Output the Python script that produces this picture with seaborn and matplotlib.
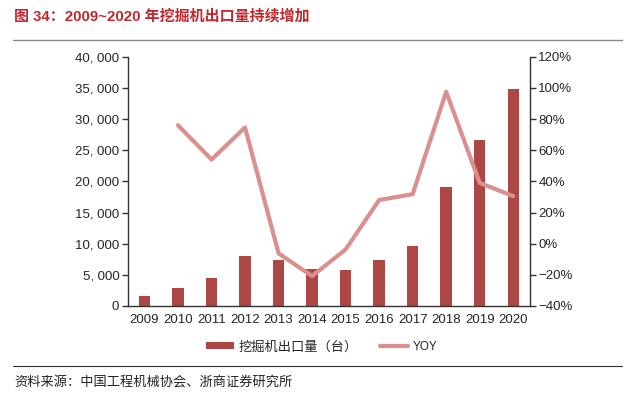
import matplotlib
matplotlib.use("Agg")
import matplotlib.pyplot as plt
import seaborn as sns
import numpy as np
import pandas as pd
from matplotlib.lines import Line2D
from matplotlib.patches import Patch

years = ["2009", "2010", "2011", "2012", "2013", "2014", "2015", "2016", "2017", "2018", "2019", "2020"]
exports = [1600, 2950, 4550, 7950, 7400, 5900, 5800, 7400, 9650, 19100, 26600, 34750]
yoy = [np.nan, 76.0, 54.0, 74.6, -6.2, -20.8, -3.7, 28.0, 31.8, 97.5, 39.0, 30.5]
left_ticks = [0, 5000, 10000, 15000, 20000, 25000, 30000, 35000, 40000]
right_ticks = [-40, -20, 0, 20, 40, 60, 80, 100, 120]

bar_color = "#AD4746"
line_color = "#D9908E"
title = "图 34：2009~2020 年挖掘机出口量持续增加"
bar_label = "挖掘机出口量（台）"
line_label = "YOY"
source = "资料来源：中国工程机械协会、浙商证券研究所"

sns.set_style("white")
plt.rcParams["font.family"] = ["Liberation Sans", "Noto Sans CJK SC", "DejaVu Sans"]

W, H = 644, 393
fig = plt.figure(figsize=(W / 100, H / 100), dpi=100)
ax = fig.add_axes([127.7 / W, 1 - 306 / H, (530 - 127.7) / W, (306 - 56.7) / H])

df = pd.DataFrame({"year": years, "exports": exports, "yoy": yoy, "pos": np.arange(len(years))})
sns.barplot(data=df, x="year", y="exports", color=bar_color, saturation=1, width=0.34,
            linewidth=0, ax=ax)
ax.set_ylim(0, 40000)
ax.set_xlim(-0.5, len(years) - 0.5)
ax.set_yticks(left_ticks)
ax.set_yticklabels([f"{v:,}".replace(",", ", ") for v in left_ticks], fontsize=9.5)
ax.set_xlabel("")
ax.set_ylabel("")
ax.set_xticks(np.arange(len(years)))
ax.set_xticklabels(years, fontsize=9.5)
ax.tick_params(axis="x", length=0, pad=6)
ax.set_xticks(np.arange(len(years) + 1) - 0.5, minor=True)
ax.tick_params(axis="x", which="minor", length=4, width=1, color="#333333", direction="out")
ax.tick_params(axis="y", length=4, width=1, color="#333333", direction="out", pad=2)

ax2 = ax.twinx()
sns.lineplot(data=df, x="pos", y="yoy", color=line_color, linewidth=3, ax=ax2)
ax2.set_ylim(-40, 120)
ax2.set_yticks(right_ticks)
ax2.set_yticklabels([f"{v}%".replace("-", "\u2212") for v in right_ticks], fontsize=9.5)
ax2.set_ylabel("")
ax2.set_xlabel("")
ax2.tick_params(axis="y", length=4, width=1, color="#333333", direction="out", pad=2)
ax.set_xlim(-0.5, len(years) - 0.5)

for a in (ax, ax2):
    a.spines["top"].set_visible(False)
    for s in ("left", "right", "bottom"):
        a.spines[s].set_color("#333333")
        a.spines[s].set_linewidth(1)
ax.spines["right"].set_visible(False)
ax2.spines["left"].set_visible(False)
ax2.spines["bottom"].set_visible(False)

# title
fig.text(14 / W, 1 - 16 / H, title, color="#C0282D", fontsize=10.8, fontweight="bold",
         va="center", ha="left", family=["Liberation Sans", "Noto Sans CJK SC"])
fig.add_artist(Line2D([13 / W, 622 / W], [1 - 40 / H, 1 - 40 / H], color="#888888", lw=1))

handles = [Patch(facecolor=bar_color, edgecolor="none"),
           Line2D([0], [0], color=line_color, lw=3)]
leg = fig.legend(handles, [bar_label, line_label], loc="center", bbox_to_anchor=(322 / W, 1 - 347 / H),
                 ncol=2, frameon=False, fontsize=9.5, handlelength=2.1, handleheight=0.5,
                 columnspacing=1.7, handletextpad=0.35)
for t in leg.get_texts():
    if t.get_text() == line_label:
        t.set_fontsize(8.5)

fig.add_artist(Line2D([13 / W, 622 / W], [1 - 366 / H, 1 - 366 / H], color="#333333", lw=0.8))
fig.text(14 / W, 1 - 382 / H, source, fontsize=9.5, va="center", ha="left", color="#222222",
         family=["Noto Sans CJK SC", "DejaVu Sans"])

fig.savefig("out.png", dpi=100)
